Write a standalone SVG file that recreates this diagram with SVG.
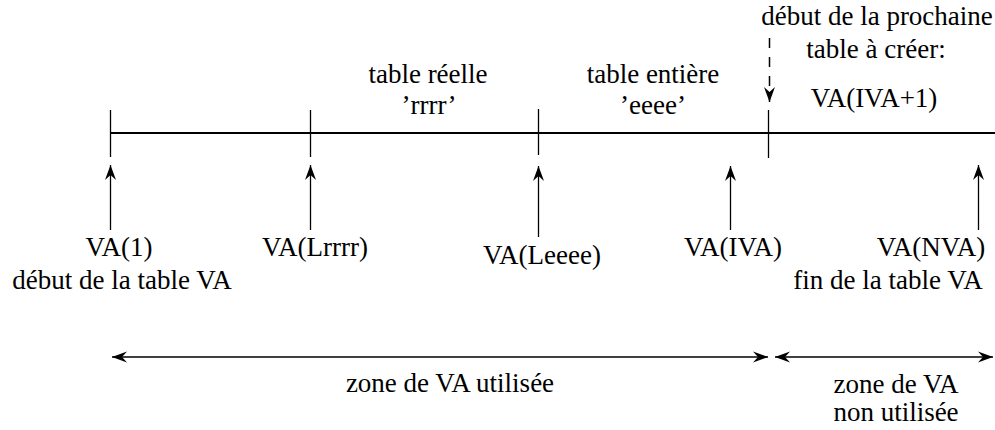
<svg xmlns="http://www.w3.org/2000/svg" width="995" height="430" viewBox="0 0 995 430">
<style>
text{font-family:'Liberation Serif','Times New Roman',Times,serif;font-size:27px;fill:#000;text-anchor:middle}
.ln{stroke:#000;fill:none;stroke-width:1.3}
.main{stroke:#000;stroke-width:2.2;fill:none}
.dash{stroke:#000;fill:none;stroke-width:1.5;stroke-dasharray:10,9}
</style>
<defs>
<marker id="ah" markerUnits="userSpaceOnUse" viewBox="-16 -7 17 14" refX="0" refY="0" markerWidth="17" markerHeight="14" orient="auto-start-reverse">
<path d="M0,0 L-15,-5.5 L-10,0 L-15,5.5 Z" fill="#000"/>
</marker>
</defs>
<g id="connectors">
<line class="main" x1="110" y1="133" x2="995" y2="133"/>
<line class="ln" x1="110.5" y1="110" x2="110.5" y2="157"/>
<line class="ln" x1="310.5" y1="110" x2="310.5" y2="157"/>
<line class="ln" x1="538.5" y1="109" x2="538.5" y2="155"/>
<line class="ln" x1="768.5" y1="110" x2="768.5" y2="158"/>
<line class="ln" x1="110.5" y1="230" x2="110.5" y2="165" marker-end="url(#ah)"/>
<line class="ln" x1="310.5" y1="230" x2="310.5" y2="165" marker-end="url(#ah)"/>
<line class="ln" x1="538.5" y1="237" x2="538.5" y2="166" marker-end="url(#ah)"/>
<line class="ln" x1="730.5" y1="230" x2="730.5" y2="166" marker-end="url(#ah)"/>
<line class="ln" x1="978.5" y1="230" x2="978.5" y2="165" marker-end="url(#ah)"/>
<line class="dash" x1="769.5" y1="38" x2="769.5" y2="102" marker-end="url(#ah)"/>
<line class="ln" x1="112" y1="357" x2="768" y2="357" marker-start="url(#ah)" marker-end="url(#ah)"/>
<line class="ln" x1="775" y1="357" x2="993" y2="357" marker-start="url(#ah)" marker-end="url(#ah)"/>
</g>
<g font-family="Liberation Serif, serif">
<g id="label-va1"><text x="119" y="256">VA(1)</text><text x="122" y="289">début de la table VA</text></g>
<g id="label-lrrrr"><text x="315" y="256">VA(Lrrrr)</text></g>
<g id="label-leeee"><text x="542" y="264">VA(Leeee)</text></g>
<g id="label-iva"><text x="733" y="256">VA(IVA)</text></g>
<g id="label-nva"><text x="931" y="256">VA(NVA)</text><text x="888" y="289">fin de la table VA</text></g>
<g id="label-reelle"><text x="428" y="83">table réelle</text><text x="429" y="114">’rrrr’</text></g>
<g id="label-entiere"><text x="653" y="83">table entière</text><text x="653" y="114">’eeee’</text></g>
<g id="label-prochaine"><text x="877" y="25">début de la prochaine</text><text x="876" y="58">table à créer:</text><text x="874" y="107">VA(IVA+1)</text></g>
<g id="label-utilisee"><text x="450" y="392">zone de VA utilisée</text></g>
<g id="label-nonutilisee"><text x="896" y="393">zone de VA</text><text x="896" y="421">non utilisée</text></g>
</g>
</svg>
